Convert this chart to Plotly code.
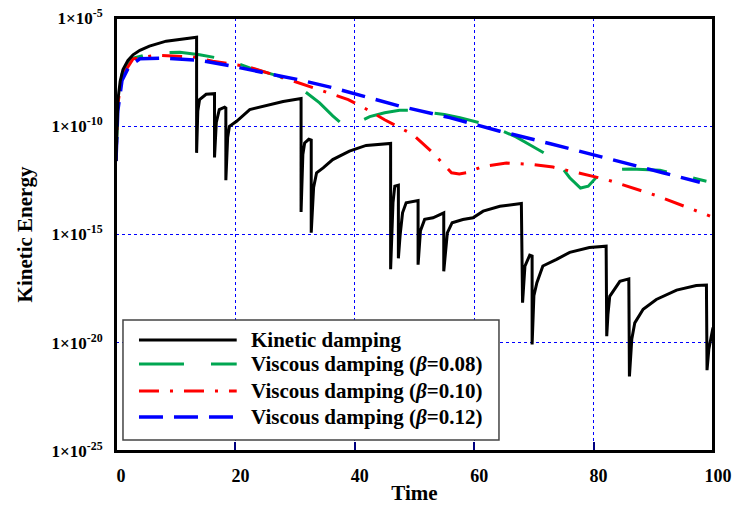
import plotly.graph_objects as go

# ---------------- data ----------------
kd_t = [0, 0.15, 0.33, 0.7, 1.17, 2.0, 2.85, 4.0, 5.6, 8.4, 11.2, 13.5,
        13.5, 13.7, 14.0, 15.1, 16.5,
        16.5, 16.8, 17.3, 18.2, 18.4,
        18.4, 18.7, 19.0, 20.2, 22.4, 25.2, 28.0, 31.0,
        31.0, 31.3, 31.6, 32.3, 32.7,
        32.7, 33.1, 33.6, 34.7, 36.3, 39.1, 41.9, 46.0,
        46.0, 46.4, 46.7, 47.2, 47.3,
        47.3, 47.6, 48.0, 48.6, 50.6,
        50.6, 51.0, 51.7, 53.1, 54.9,
        54.9, 55.5, 56.3, 58.1, 59.8, 61.5, 64.3, 67.9,
        68.1, 68.3, 68.5, 69.3, 69.7,
        69.7, 70.0, 70.5, 71.5, 73.8, 76.0, 79.3, 82.1,
        82.2, 82.4, 82.7, 84.4, 85.9,
        86.0, 86.4, 86.9, 88.3, 90.5, 93.9, 97.2, 98.9,
        99.0, 99.3, 99.6, 100]
kd_e = [2.4e-12, 1.0e-10, 1.7e-9, 1.2e-8, 4.2e-8, 1.1e-7, 2.0e-7, 3.2e-7, 5.0e-7, 8.5e-7, 1.1e-6, 1.3e-6,
        5.9e-12, 5.0e-10, 1.7e-9, 3.0e-9, 3.2e-9,
        3.6e-12, 1.5e-10, 5.9e-10, 7.6e-10, 7.0e-10,
        3.2e-13, 3.0e-11, 1.0e-10, 1.7e-10, 5.9e-10, 9.1e-10, 1.4e-9, 1.9e-9,
        1.1e-14, 5.0e-12, 1.7e-11, 2.5e-11, 2.3e-11,
        1.2e-15, 1.5e-13, 7.1e-13, 1.2e-12, 2.9e-12, 7.1e-12, 1.3e-11, 1.6e-11,
        2.5e-17, 3.0e-14, 1.7e-13, 2.0e-13, 1.9e-13,
        7.9e-17, 1.0e-15, 1.0e-14, 2.9e-14, 3.7e-14,
        4.0e-17, 1.5e-15, 5.0e-15, 5.9e-15, 1.0e-14,
        2.0e-17, 1.2e-15, 3.5e-15, 4.9e-15, 5.9e-15, 1.2e-14, 2.0e-14, 2.7e-14,
        7.1e-19, 8.0e-18, 3.5e-17, 1.1e-16, 1.0e-16,
        8.3e-21, 1.5e-18, 5.9e-18, 3.5e-17, 7.1e-17, 1.5e-16, 2.5e-16, 2.9e-16,
        2.0e-20, 2.0e-19, 1.4e-18, 6.9e-18, 8.9e-18,
        2.8e-22, 1.5e-20, 8.3e-20, 3.5e-19, 1.0e-18, 2.7e-18, 4.4e-18, 4.6e-18,
        5.4e-22, 5.0e-21, 1.4e-20, 5.0e-20]

v08_t = [0, 0.3, 1.0, 1.74, 2.85, 5.6, 8.0, 10.7, 14.0, 18.5, 22.4, 27.4, 30.5,
         34.1, 36.3, 38.0, 39.0, 40.5, 42.5, 45.0, 47.5, 50.0, 52.8, 55.0, 57.6,
         62.0, 64.8, 67.0, 69.3, 72.6, 74.3, 76.0, 77.8, 79.1, 80.5, 82.1, 84.0,
         86.3, 91.1, 95.5, 98.9]
v08_e = [2.5e-12, 1.0e-9, 2.5e-8, 7.1e-8, 1.4e-7, 2.2e-7, 2.5e-7, 2.6e-7, 2.0e-7, 1.2e-7, 5.0e-8, 2.0e-8, 7.1e-9,
         1.2e-9, 3.0e-10, 1.2e-10, 1.05e-10, 1.5e-10, 2.8e-10, 4.2e-10, 5.5e-10, 5.6e-10, 4.2e-10, 3.5e-10, 2.5e-10,
         1.2e-10, 5.9e-11, 3.2e-11, 1.4e-11, 4.2e-12, 1.7e-12, 4.2e-13, 1.4e-13, 1.7e-13, 4.5e-13, 8.3e-13, 1.0e-12,
         1.07e-12, 9.3e-13, 4.9e-13, 2.9e-13]

v10_t = [0, 0.3, 1.0, 2.85, 6.8, 12.9, 16.2, 21.8, 27.4, 33.6, 38.9, 41.9, 45.0,
         49.7, 53.0, 56.2, 57.5, 58.7, 61.5, 65.4, 69.8, 73.2, 78.8, 82.1, 90.5, 96.1, 99.5]
v10_e = [2.5e-12, 1.0e-9, 2.0e-8, 1.3e-7, 1.9e-7, 1.6e-7, 1.0e-7, 5.9e-8, 2.0e-8, 5.4e-9, 1.7e-9, 6.3e-10, 2.0e-10,
         4.2e-11, 6.3e-12, 7.1e-13, 6.3e-13, 7.1e-13, 1.4e-12, 2.0e-12, 1.7e-12, 1.3e-12, 5.9e-13, 3.5e-13, 6.3e-14,
         1.7e-14, 7.1e-15]

v12_t = [0, 0.3, 1.0, 2.2, 4.0, 8.4, 14.0, 19.6, 25.2, 30.7, 36.3, 39.1, 47.5,
         55.9, 64.3, 72.6, 79.9, 85.5, 91.6, 97.8]
v12_e = [2.5e-12, 5.0e-10, 1.3e-8, 5.9e-8, 1.3e-7, 1.4e-7, 1.1e-7, 5.9e-8, 2.8e-8, 1.4e-8, 6.0e-9, 3.7e-9, 8.5e-10,
         2.5e-10, 5.9e-11, 1.6e-11, 5.0e-12, 2.0e-12, 7.1e-13, 2.6e-13]

x_ticks = [0, 20, 40, 60, 80, 100]
y_ticks = [1e-25, 1e-20, 1e-15, 1e-10, 1e-5]
y_ticktext = ["<b>1×10<sup>-25</sup></b>", "<b>1×10<sup>-20</sup></b>", "<b>1×10<sup>-15</sup></b>",
              "<b>1×10<sup>-10</sup></b>", "<b>1×10<sup>-5</sup></b>"]

names = ["Kinetic damping", "Viscous damping (<i>β</i>=0.08)",
         "Viscous damping (<i>β</i>=0.10)", "Viscous damping (<i>β</i>=0.12)"]

# ---------------- styles ----------------
FONT = "Liberation Serif"
styles = [
    dict(color="black", width=3, dash="solid"),
    dict(color="#00a651", width=3, dash="45px,27px"),
    dict(color="#ff0000", width=3, dash="20px,11px,3px,11px"),
    dict(color="#0000ff", width=3.5, dash="24px,11px"),
]

fig = go.Figure()
series = [(v08_t, v08_e, 1), (v10_t, v10_e, 2), (v12_t, v12_e, 3)]
for t, e, i in series:
    fig.add_trace(go.Scatter(x=t, y=e, mode="lines", name=names[i],
                             line=styles[i], showlegend=False))
fig.add_trace(go.Scatter(x=kd_t, y=kd_e, mode="lines", name=names[0],
                         line=styles[0], showlegend=False))

# ---------------- frame + custom legend ----------------
shapes = [dict(type="rect", xref="paper", yref="paper", x0=0, x1=1, y0=0, y1=1,
               line=dict(color="black", width=2), layer="above"),
          dict(type="rect", xref="paper", yref="paper", x0=0.0117, x1=0.6415, y0=0.0254, y1=0.3025,
               line=dict(color="#444", width=1.5), fillcolor="white", layer="above")]
rows = [0.2564, 0.2009, 0.1386, 0.0785]
annotations = []
for i, yr in enumerate(rows):
    shapes.append(dict(type="line", xref="paper", yref="paper", x0=0.0385, x1=0.2022, y0=yr, y1=yr,
                       line=styles[i], layer="above"))
    annotations.append(dict(xref="paper", yref="paper", x=0.2228, y=yr, xanchor="left", yanchor="middle",
                            text="<b>" + names[i] + "</b>", showarrow=False,
                            font=dict(family=FONT, size=21, color="black")))

fig.update_layout(
    width=734, height=505,
    margin=dict(l=116, r=21, t=18, b=54, autoexpand=False),
    paper_bgcolor="white", plot_bgcolor="white",
    font=dict(family=FONT, color="black"),
    shapes=shapes, annotations=annotations,
)
fig.update_xaxes(
    range=[0, 100], tickvals=x_ticks, ticktext=["<b>%d</b>" % v for v in x_ticks],
    tickfont=dict(family=FONT, size=18, color="black"),
    showgrid=True, gridcolor="#0000ff", gridwidth=1, griddash="dot",
    showline=True, linecolor="black", linewidth=2, mirror=True,
    ticks="inside", ticklen=9, tickcolor="#000080", tickwidth=2,
    ticklabelshift=5, ticklabelstandoff=7, ticklabeloverflow="allow",
    zeroline=False, automargin=False,
    title=dict(text="<b>Time</b>", font=dict(family=FONT, size=21, color="black"), standoff=2),
)
fig.update_yaxes(
    type="log", range=[-25, -5], tickvals=y_ticks, ticktext=y_ticktext,
    tickfont=dict(family=FONT, size=17, color="black"),
    showgrid=True, gridcolor="#0000ff", gridwidth=1, griddash="dot",
    showline=True, linecolor="black", linewidth=2, mirror=True,
    ticks="", ticklabelstandoff=8, ticklabeloverflow="allow",
    zeroline=False, automargin=False,
    title=dict(text="<b>Kinetic Energy</b>", font=dict(family=FONT, size=21, color="black"), standoff=13),
)

fig.write_html("out.html", config={"displayModeBar": False},
               post_script="document.body.style.margin='0';")
